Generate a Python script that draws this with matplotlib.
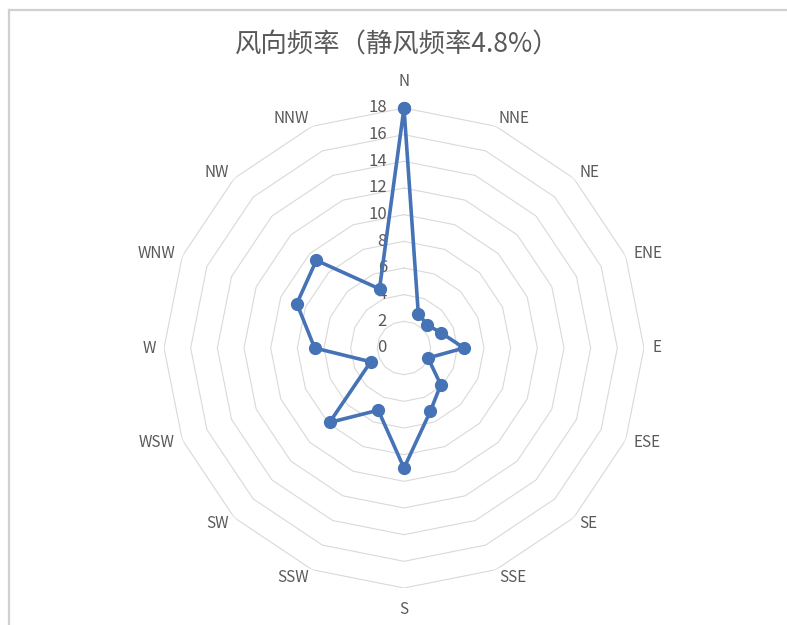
import numpy as np
import matplotlib
matplotlib.use("Agg")
import matplotlib.pyplot as plt
from matplotlib.lines import Line2D
from matplotlib.transforms import offset_copy

plt.rcParams['font.family'] = ['Noto Sans CJK SC', 'DejaVu Sans']

# data
directions = ['N', 'NNE', 'NE', 'ENE', 'E', 'ESE', 'SE', 'SSE',
              'S', 'SSW', 'SW', 'WSW', 'W', 'WNW', 'NW', 'NNW']
freq = [18.0, 2.8, 2.45, 3.0, 4.5, 1.95, 3.9, 5.15,
        9.0, 5.05, 7.9, 2.7, 6.7, 8.7, 9.3, 4.8]
rings = [2, 4, 6, 8, 10, 12, 14, 16, 18]
tick_vals = [0, 2, 4, 6, 8, 10, 12, 14, 16, 18]
title = '风向频率（静风频率4.8%）'

text_gray = '#595959'
grid_gray = '#d9d9d9'
line_blue = '#4673B5'

W, H = 787, 625
fig = plt.figure(figsize=(W / 100, H / 100), dpi=100)
fig.patch.set_facecolor('white')

# centre of radar at (404, 348) px, radius 240 px for value 18
cx, cy, R = 404, 348, 240
ax = fig.add_axes([(cx - R) / W, (H - cy - R) / H, 2 * R / W, 2 * R / H],
                  projection='polar')
ax.set_theta_offset(np.pi / 2)
ax.set_theta_direction(-1)
ax.set_ylim(0, 18)
ax.grid(False)
ax.set_xticks([])
ax.set_yticks([])
ax.spines['polar'].set_visible(False)
ax.patch.set_alpha(0)

n = len(directions)
theta = np.arange(n) * 2 * np.pi / n
theta_closed = np.append(theta, theta[0])

# polygon gridlines
for r in rings:
    ax.plot(theta_closed, [r] * (n + 1), color=grid_gray, lw=0.8, zorder=1)

# data series
vals = np.append(freq, freq[0])
ax.plot(theta_closed, vals, color=line_blue, lw=2.6, marker='o',
        markersize=8.5, zorder=3, clip_on=False)

# radial axis labels, just left of the vertical axis
lab_tr = offset_copy(ax.transData, fig=fig, x=-17, y=0, units='dots')
for v in tick_vals:
    ax.text(0, v, str(v), transform=lab_tr, ha='right', va='center',
            fontsize=12, color=text_gray, zorder=2)

# direction labels, aligned outward like Excel does
for t, d in zip(theta, directions):
    s, c = np.sin(t), np.cos(t)
    ha = 'left' if s > 0.1 else ('right' if s < -0.1 else 'center')
    va = 'center'
    r_lab = 18.6
    if abs(s) < 0.1:
        va = 'bottom' if c > 0 else 'top'
        r_lab = 19.35 if c > 0 else 18.95
    ax.text(t, r_lab, d, ha=ha, va=va, fontsize=11,
            color=text_gray, clip_on=False)

fig.text(397 / W, 1 - 45 / H, title, ha='center', va='center',
         fontsize=19, color=text_gray)

# chart area border (top and left edges visible)
bx, by = 9 / W, 1 - 10 / H
fig.add_artist(Line2D([bx, 1], [by, by], transform=fig.transFigure,
                      color='#d0d0d0', lw=1.6))
fig.add_artist(Line2D([bx, bx], [0, by], transform=fig.transFigure,
                      color='#d0d0d0', lw=1.6))

fig.savefig('out.png', dpi=100, facecolor='white')
